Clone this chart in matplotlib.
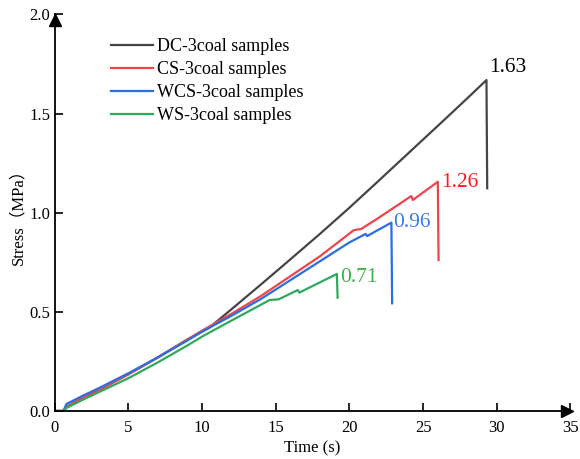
import matplotlib
matplotlib.use("Agg")
import matplotlib.pyplot as plt

# ---------------- data ----------------
dc_x = [0, 0.6, 0.8, 2, 3, 5, 7, 9, 10.5, 12, 14, 16, 18, 20, 22, 24, 26, 28, 29.3, 29.35]
dc_y = [0, 0, 0.02, 0.07, 0.105, 0.185, 0.27, 0.36, 0.42, 0.513, 0.638, 0.765, 0.893, 1.025, 1.162, 1.300, 1.438, 1.577, 1.669, 1.123]

cs_x = [0, 0.6, 0.8, 2, 3, 5, 7, 9, 10, 12, 14, 16, 18, 20.3, 20.8, 22, 24.2, 24.3, 26.0, 26.05]
cs_y = [0, 0, 0.02, 0.07, 0.105, 0.185, 0.27, 0.36, 0.405, 0.49, 0.58, 0.68, 0.78, 0.912, 0.918, 0.975, 1.084, 1.064, 1.156, 0.761]

wcs_x = [0, 0.6, 0.8, 2, 3, 5, 7, 9, 10, 12, 14, 16, 18, 20, 21.1, 21.2, 22.85, 22.9]
wcs_y = [0, 0, 0.035, 0.08, 0.115, 0.19, 0.27, 0.355, 0.40, 0.48, 0.565, 0.66, 0.755, 0.85, 0.893, 0.882, 0.950, 0.543]

ws_x = [0, 0.6, 0.8, 2, 3, 5, 7, 9, 10, 12, 14.6, 15.2, 16.5, 16.6, 19.15, 19.2]
ws_y = [0, 0, 0.015, 0.06, 0.095, 0.165, 0.245, 0.33, 0.375, 0.456, 0.56, 0.563, 0.610, 0.597, 0.691, 0.571]

labels = ["DC-3coal samples", "CS-3coal samples", "WCS-3coal samples", "WS-3coal samples"]
colors = ["#454545", "#f0444c", "#2a6ee0", "#2eaa5c"]
text_colors = ["#000000", "#ff1a1a", "#3a7de0", "#3cb04c"]
peak_texts = ["1.63", "1.26", "0.96", "0.71"]
peak_pos = [(29.5, 1.73), (26.25, 1.15), (22.95, 0.951), (19.35, 0.673)]

xticks = [0, 5, 10, 15, 20, 25, 30, 35]
yticks = [0.0, 0.5, 1.0, 1.5, 2.0]
ytick_labels = ["0.0", "0.5", "1.0", "1.5", "2.0"]

# ---------------- plot ----------------
plt.rcParams['font.family'] = ['Liberation Serif', 'Noto Sans CJK SC', 'DejaVu Sans']

fig = plt.figure(figsize=(5.8, 4.59), dpi=100)
ax = fig.add_axes([0.0941, 0.1046, 0.9836 - 0.0941, 0.9686 - 0.1046])

series = [(dc_x, dc_y), (cs_x, cs_y), (wcs_x, wcs_y), (ws_x, ws_y)]
for (xs, ys), lab, c in zip(series, labels, colors):
    ax.plot(xs, ys, color=c, lw=1.6, label=lab)

for t, (px, py), c in zip(peak_texts, peak_pos, text_colors):
    ax.text(px, py, t, color=c, fontsize=15.5, ha='left', va='center')

ax.set_xlim(0, 35)
ax.set_ylim(0, 2.0)
ax.set_xticks(xticks)
ax.set_yticks(yticks)
ax.set_yticklabels(ytick_labels)

for s in ['top', 'right']:
    ax.spines[s].set_visible(False)
for s in ['left', 'bottom']:
    ax.spines[s].set_linewidth(1.3)

ax.tick_params(axis='both', direction='in', length=5.5, width=1.2, labelsize=12)
ax.tick_params(axis='x', pad=6.5)
ax.tick_params(axis='y', pad=3)

# arrow heads
ax.plot([0.993], [0], marker='>', color='black', markersize=9, transform=ax.transAxes, clip_on=False)
ax.plot([0], [0.985], marker='^', color='black', markersize=9, transform=ax.transAxes, clip_on=False)

ax.set_xlabel("Time (s)", fontsize=12, labelpad=3)
fig.text(18 / 580, 1 - 213 / 459, "Stress（MPa）", rotation=90, ha='center', va='center', fontsize=12)

leg = ax.legend(loc='upper left', bbox_to_anchor=(0.1093, 0.94), frameon=False,
                fontsize=13, handlelength=2.35, handletextpad=0.2, labelspacing=0.33,
                borderpad=0, borderaxespad=0)

fig.savefig("out.png", dpi=100)
